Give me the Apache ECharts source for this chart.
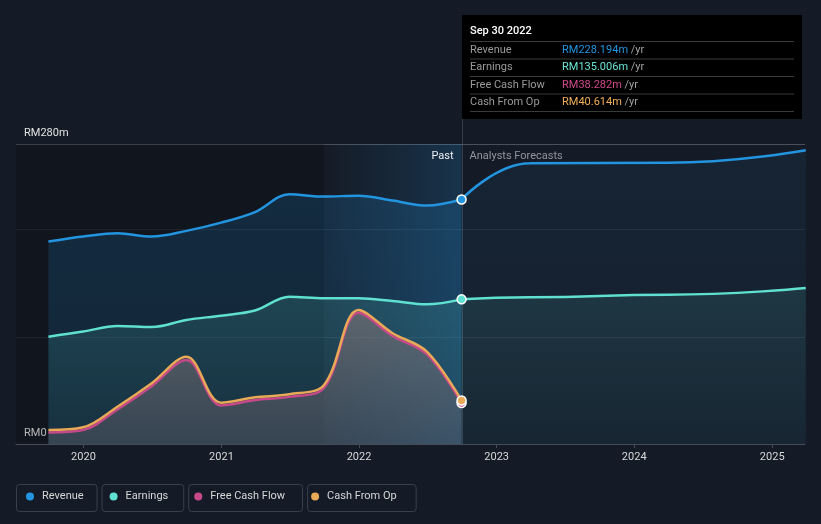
<!DOCTYPE html>
<html><head><meta charset="utf-8">
<script src="https://cdn.jsdelivr.net/npm/echarts@6/dist/echarts.min.js"></script>
<style>html,body{margin:0;padding:0;background:#151b26;}#c{width:821px;height:524px;}</style>
</head><body><div id="c"></div>
<script>
// ---------- data ----------
const pastDates = ['2019-09-30','2019-12-31','2020-03-31','2020-06-30','2020-09-30','2020-12-31','2021-03-31','2021-06-30','2021-09-30','2021-12-31','2022-03-31','2022-06-30','2022-09-30'];
const revenuePast  = [188.9, 193.6, 196.7, 193.6, 198.9, 206.6, 216.5, 233.1, 230.9, 231.8, 227.2, 222.5, 228.194];
const earningsPast = [100.2, 104.9, 110.2, 109.2, 115.8, 119.8, 124.6, 137.5, 136.0, 136.0, 133.5, 130.4, 135.006];
const fcfPast      = [10.8, 13.0, 32.3, 54.0, 78.5, 36.0, 41.0, 44.0, 52.5, 122.5, 100.8, 83.8, 38.282];
const cfoPast      = [13.1, 15.6, 34.8, 56.7, 81.5, 38.6, 43.6, 46.4, 55.1, 125.1, 103.4, 86.2, 40.614];
const forecastDates    = ['2022-09-30','2023-03-31','2024-03-31','2025-03-31'];
const revenueForecast  = [228.194, 262.0, 262.6, 274.2];
const earningsForecast = [135.006, 137.0, 139.4, 145.5];
const seriesNames = ['Revenue','Earnings','Free Cash Flow','Cash From Op'];
const yTickLabels = {0: 'RM0', 280: 'RM280m'};
const yMax = 280, yInterval = 100;
const xMin = '2019-07-06', xMax = '2025-03-29';
const bandStart = '2021-09-30';
const pastLabel = 'Past', forecastLabel = 'Analysts Forecasts';

// ---------- helpers ----------
const ts = d => { const [y,m,dd] = d.split('-').map(Number); return Date.UTC(y, m-1, dd); };
const pairs = (dates, vals) => dates.map((d,i)=>[ts(d), vals[i]]);
const C = {rev:'#2394df', earn:'#5fe0d0', fcf:'#c8498a', cfo:'#e9aa58'};
const FONT = 'Roboto, "Noto Sans", sans-serif';
const vgrad = (a,b) => ({type:'linear',x:0,y:0,x2:0,y2:1,colorStops:[{offset:0,color:a},{offset:1,color:b}]});
function withEndMarker(data, color){
  const d = data.map(p=>({value:p}));
  d[d.length-1] = {value:data[data.length-1], symbol:'circle', symbolSize:9,
    itemStyle:{color:color, borderColor:'#ffffff', borderWidth:1.5}};
  return d;
}
const lineBase = {type:'line', smooth:0.35, symbol:'none', showSymbol:true, showAllSymbol:true, silent:true};
const fcBase = Object.assign({}, lineBase, {smooth:0.5, smoothMonotone:'x'});

const chart = echarts.init(document.getElementById('c'), null, {renderer:'canvas', width:821, height:524});
const option = {
  animation:false,
  useUTC:true,
  backgroundColor:'#151b26',
  textStyle:{fontFamily:FONT},
  grid:{left:16, right:16, top:144, bottom:80},
  xAxis:{type:'time', min:ts(xMin), max:ts(xMax), minInterval:365*86400000,
    axisLine:{lineStyle:{color:'#464c57'}},
    axisTick:{show:true, length:4, lineStyle:{color:'#464c57'}},
    axisLabel:{formatter:'{yyyy}', color:'#d8d8d8', fontSize:11, margin:8, fontFamily:FONT},
    splitLine:{show:false}},
  yAxis:{type:'value', min:0, max:yMax, interval:yInterval,
    axisLine:{show:false}, axisTick:{show:false},
    axisLabel:{inside:true, margin:8, verticalAlign:'bottom', padding:[0,0,5,0], color:'#e2e2e2', fontSize:11, fontFamily:FONT,
      formatter:v => yTickLabels[v] || ''},
    splitLine:{lineStyle:{color:['#3a404b','#242c37','#242c37','#4a505b'], width:1}}},
  legend:{data:seriesNames, left:26, top:491, padding:0, itemGap:26, itemWidth:12, itemHeight:8, icon:'circle',
    textStyle:{color:'#d6d6d6', fontSize:11, fontFamily:FONT, padding:[0,0,0,1]}, selectedMode:false},
  series:[
    Object.assign({}, fcBase, {name:'Revenue', color:C.rev, z:2,
      data:pairs(forecastDates, revenueForecast),
      lineStyle:{width:2.5, color:C.rev},
      areaStyle:{color:vgrad('rgba(35,148,223,0.10)','rgba(35,148,223,0.06)')},
      markArea:{silent:true, data:[
        [{xAxis:ts(xMin), itemStyle:{color:'rgba(0,0,0,0.2)'}}, {xAxis:ts(bandStart)}],
        [{xAxis:ts(bandStart), itemStyle:{color:{type:'linear',x:0,y:0,x2:1,y2:0,colorStops:[{offset:0,color:'rgba(35,148,223,0.0)'},{offset:1,color:'rgba(35,148,223,0.2)'}]}},
          label:{show:true, position:'insideTopRight', formatter:pastLabel, color:'#eeeeee', fontSize:11, fontFamily:FONT, distance:7, offset:[-1,0]}},
         {xAxis:ts(pastDates[pastDates.length-1])}],
        [{xAxis:ts(pastDates[pastDates.length-1]), itemStyle:{color:'rgba(0,0,0,0)'},
          label:{show:true, position:'insideTopLeft', formatter:forecastLabel, color:'#8f959c', fontSize:11, fontFamily:FONT, distance:7, offset:[1,0]}},
         {xAxis:ts(xMax)}]
      ]}}),
    Object.assign({}, fcBase, {name:'Earnings', color:C.earn, z:2,
      data:pairs(forecastDates, earningsForecast),
      lineStyle:{width:2.5, color:C.earn},
      areaStyle:{color:vgrad('rgba(95,224,208,0.16)','rgba(95,224,208,0.04)')}}),
    Object.assign({}, lineBase, {name:'Revenue', color:C.rev, z:3,
      data:withEndMarker(pairs(pastDates, revenuePast), C.rev),
      lineStyle:{width:2.5, color:C.rev},
      areaStyle:{color:vgrad('rgba(35,148,223,0.25)','rgba(35,148,223,0.18)')}}),
    Object.assign({}, lineBase, {name:'Earnings', color:C.earn, z:3,
      data:withEndMarker(pairs(pastDates, earningsPast), C.earn),
      lineStyle:{width:2.5, color:C.earn},
      areaStyle:{color:vgrad('rgba(95,224,208,0.22)','rgba(95,224,208,0.08)')}}),
    Object.assign({}, lineBase, {name:'Free Cash Flow', color:C.fcf, z:3,
      data:withEndMarker(pairs(pastDates, fcfPast), C.fcf),
      lineStyle:{width:2.5, color:C.fcf},
      areaStyle:{color:vgrad('rgba(132,118,120,0.85)','rgba(105,100,110,0.55)')}}),
    Object.assign({}, lineBase, {name:'Cash From Op', color:C.cfo, z:3,
      data:withEndMarker(pairs(pastDates, cfoPast), C.cfo),
      lineStyle:{width:2.5, color:C.cfo}})
  ]
};
chart.setOption(option);

// ---------- overlay: tooltip box, pointer line, legend boxes ----------
const MONTHS = ['Jan','Feb','Mar','Apr','May','Jun','Jul','Aug','Sep','Oct','Nov','Dec'];
const lastIdx = pastDates.length-1;
const lastD = pastDates[lastIdx].split('-').map(Number);
const title = MONTHS[lastD[1]-1] + ' ' + lastD[2] + ' ' + lastD[0];
const rows = [
  ['Revenue', revenuePast[lastIdx], C.rev],
  ['Earnings', earningsPast[lastIdx], '#6ae6d6'],
  ['Free Cash Flow', fcfPast[lastIdx], '#d04a8c'],
  ['Cash From Op', cfoPast[lastIdx], '#f0b05a']
];
const pLast = chart.convertToPixel({gridIndex:0}, [ts(pastDates[lastIdx]), 0]);
const bx = Math.round(pLast[0]), by = 15, bw = 340, bh = 104;
const g = [];
g.push({type:'line', z:1, silent:true, shape:{x1:bx+0.5, y1:by+bh, x2:bx+0.5, y2:pLast[1]}, style:{stroke:'rgba(110,130,150,0.35)', lineWidth:1}});
g.push({type:'rect', z:10, shape:{x:bx, y:by, width:bw, height:bh}, style:{fill:'#000000'}});
g.push({type:'text', z:11, x:bx+8, y:by+16, style:{text:title, fill:'#ffffff', font:'500 11px '+FONT, verticalAlign:'middle'}});
rows.forEach((r,i)=>{
  const lineY = by + 26 + i*17.5;
  g.push({type:'line', z:11, shape:{x1:bx+8, y1:lineY+0.5, x2:bx+332, y2:lineY+0.5}, style:{stroke:'#3a3a3a', lineWidth:1}});
  const ty = lineY + 9;
  g.push({type:'text', z:11, x:bx+8, y:ty, style:{text:r[0], fill:'#9a9a9a', font:'11px '+FONT, verticalAlign:'middle'}});
  g.push({type:'text', z:11, x:bx+100, y:ty, style:{text:'{v|RM'+r[1].toFixed(3)+'m} {u|/yr}', verticalAlign:'middle', font:'11px '+FONT,
    rich:{v:{fill:r[2], font:'11px '+FONT}, u:{fill:'#a0a0a0', font:'11px '+FONT}}}});
});
g.push({type:'line', z:11, shape:{x1:bx+8, y1:by+26+4*17.5+0.5, x2:bx+332, y2:by+26+4*17.5+0.5}, style:{stroke:'#3a3a3a', lineWidth:1}});

// legend boxes measured from text widths
const cv = document.createElement('canvas').getContext('2d');
cv.font = '11px ' + FONT;
let sx = 26;
seriesNames.forEach(n=>{
  const w = cv.measureText(n).width;
  const left = sx - 10, right = sx + 12 + 5 + 1 + w + 11;
  g.push({type:'rect', z:0, silent:true, shape:{x:left+0.5, y:484.5, width:right-left, height:27, r:3}, style:{fill:'none', stroke:'#3a404b', lineWidth:1}});
  sx = sx + 12 + 5 + 1 + w + 26;
});
chart.setOption({graphic:g});
</script></body></html>
